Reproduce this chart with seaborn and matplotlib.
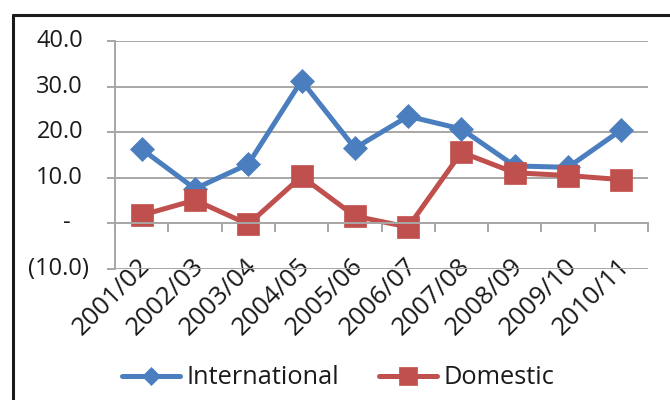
import matplotlib
matplotlib.use("Agg")
import matplotlib.pyplot as plt
import matplotlib.transforms as mtransforms
from matplotlib.lines import Line2D
import seaborn as sns
import pandas as pd

# Annual growth (%) by financial year
years = ["2001/02", "2002/03", "2003/04", "2004/05", "2005/06",
         "2006/07", "2007/08", "2008/09", "2009/10", "2010/11"]
international = [16.3, 7.6, 13.0, 31.3, 16.5, 23.5, 20.7, 12.6, 12.3, 20.5]
domestic = [1.8, 5.1, -0.2, 10.3, 1.6, -0.8, 15.6, 11.1, 10.5, 9.6]

y_ticks = [40, 30, 20, 10, 0, -10]
y_tick_labels = ["40.0", "30.0", "20.0", "10.0", "-", "(10.0)"]

BLUE = "#4A7EBF"
RED = "#C0504D"
GRID = "#A9A7A5"
TEXT = "#1a1a1a"

sns.set_theme(style="white")
plt.rcParams["font.family"] = ["Open Sans", "DejaVu Sans"]
FS_Y = 17
FS_X = 18.5
FS_LEG = 18.3

fig = plt.figure(figsize=(6.7, 4.0), dpi=100)
fig.patch.set_facecolor("white")
W, H = 670, 400
ax = fig.add_axes([115 / W, 1 - 269 / H, (648 - 115) / W, (269 - 41) / H])

df = pd.DataFrame({"Year": years, "International": international,
                   "Domestic": domestic})

sns.lineplot(data=df, x="Year", y="International", ax=ax, color=BLUE,
             lw=3.6, marker="D", markersize=12, markeredgecolor=BLUE,
             markeredgewidth=0.5, label="International", sort=False)
sns.lineplot(data=df, x="Year", y="Domestic", ax=ax, color=RED,
             lw=3.6, marker="s", markersize=16, markeredgecolor=RED,
             markeredgewidth=0.5, label="Domestic", sort=False)

ax.set_xlim(-0.5, len(years) - 0.5)
ax.set_ylim(-10, 40)
ax.set_xlabel("")
ax.set_ylabel("")

# horizontal gridlines and axis styling
ax.set_yticks(y_ticks)
ax.yaxis.grid(True, color=GRID, lw=1.4)
ax.xaxis.grid(False)
for side in ("top", "right"):
    ax.spines[side].set_visible(False)
for side in ("left", "bottom"):
    ax.spines[side].set_color(GRID)
    ax.spines[side].set_linewidth(1.4)
ax.spines["bottom"].set_position(("data", 0))
ax.set_axisbelow(True)

ax.tick_params(axis="y", which="major", left=True, length=6, width=1.4,
               color=GRID, direction="out", labelleft=False)

# category labels in the middle, tick marks between categories
ax.set_xticks(range(len(years)))
ax.set_xticklabels(years, rotation=45, ha="right", va="center",
                   rotation_mode="anchor", fontsize=FS_X, color=TEXT)
ax.set_xticks([i - 0.5 for i in range(len(years) + 1)], minor=True)
ax.tick_params(axis="x", which="major", length=0, pad=28)
ax.tick_params(axis="x", which="minor", bottom=True, length=6.5, width=1.4,
               color=GRID, direction="out")
nudge = mtransforms.ScaledTranslation(5 / 100, 0, fig.dpi_scale_trans)
for lab in ax.get_xticklabels():
    lab.set_transform(lab.get_transform() + nudge)

# accounting-style value labels on the y axis
ytrans = ax.get_yaxis_transform()
for val, txt in zip(y_ticks, y_tick_labels):
    if txt == "-":
        off, ha = -48 / 100, "center"
    elif txt.startswith("("):
        off, ha = -26 / 100, "right"
    else:
        off, ha = -32 / 100, "right"
    tr = ytrans + mtransforms.ScaledTranslation(off, 0, fig.dpi_scale_trans)
    ax.text(0, val, txt, transform=tr, ha=ha, va="center", fontsize=FS_Y,
            color=TEXT)

ax.get_legend().remove()
handles, labels = ax.get_legend_handles_labels()
fig.legend(handles, labels, loc="center", ncol=2, frameon=False,
           bbox_to_anchor=(338 / W, 1 - 378 / H), fontsize=FS_LEG,
           handlelength=2.3, handletextpad=0.24, columnspacing=1.55,
           markerscale=0.8, labelcolor=TEXT)

# outer frame
fig.add_artist(Line2D([13 / W, 13 / W], [0, 1 - 15 / H],
                      transform=fig.transFigure, color=TEXT, lw=2.2))
fig.add_artist(Line2D([13 / W, 1], [1 - 15 / H, 1 - 15 / H],
                      transform=fig.transFigure, color=TEXT, lw=2.2))

fig.savefig("out.png", dpi=100, facecolor="white")
